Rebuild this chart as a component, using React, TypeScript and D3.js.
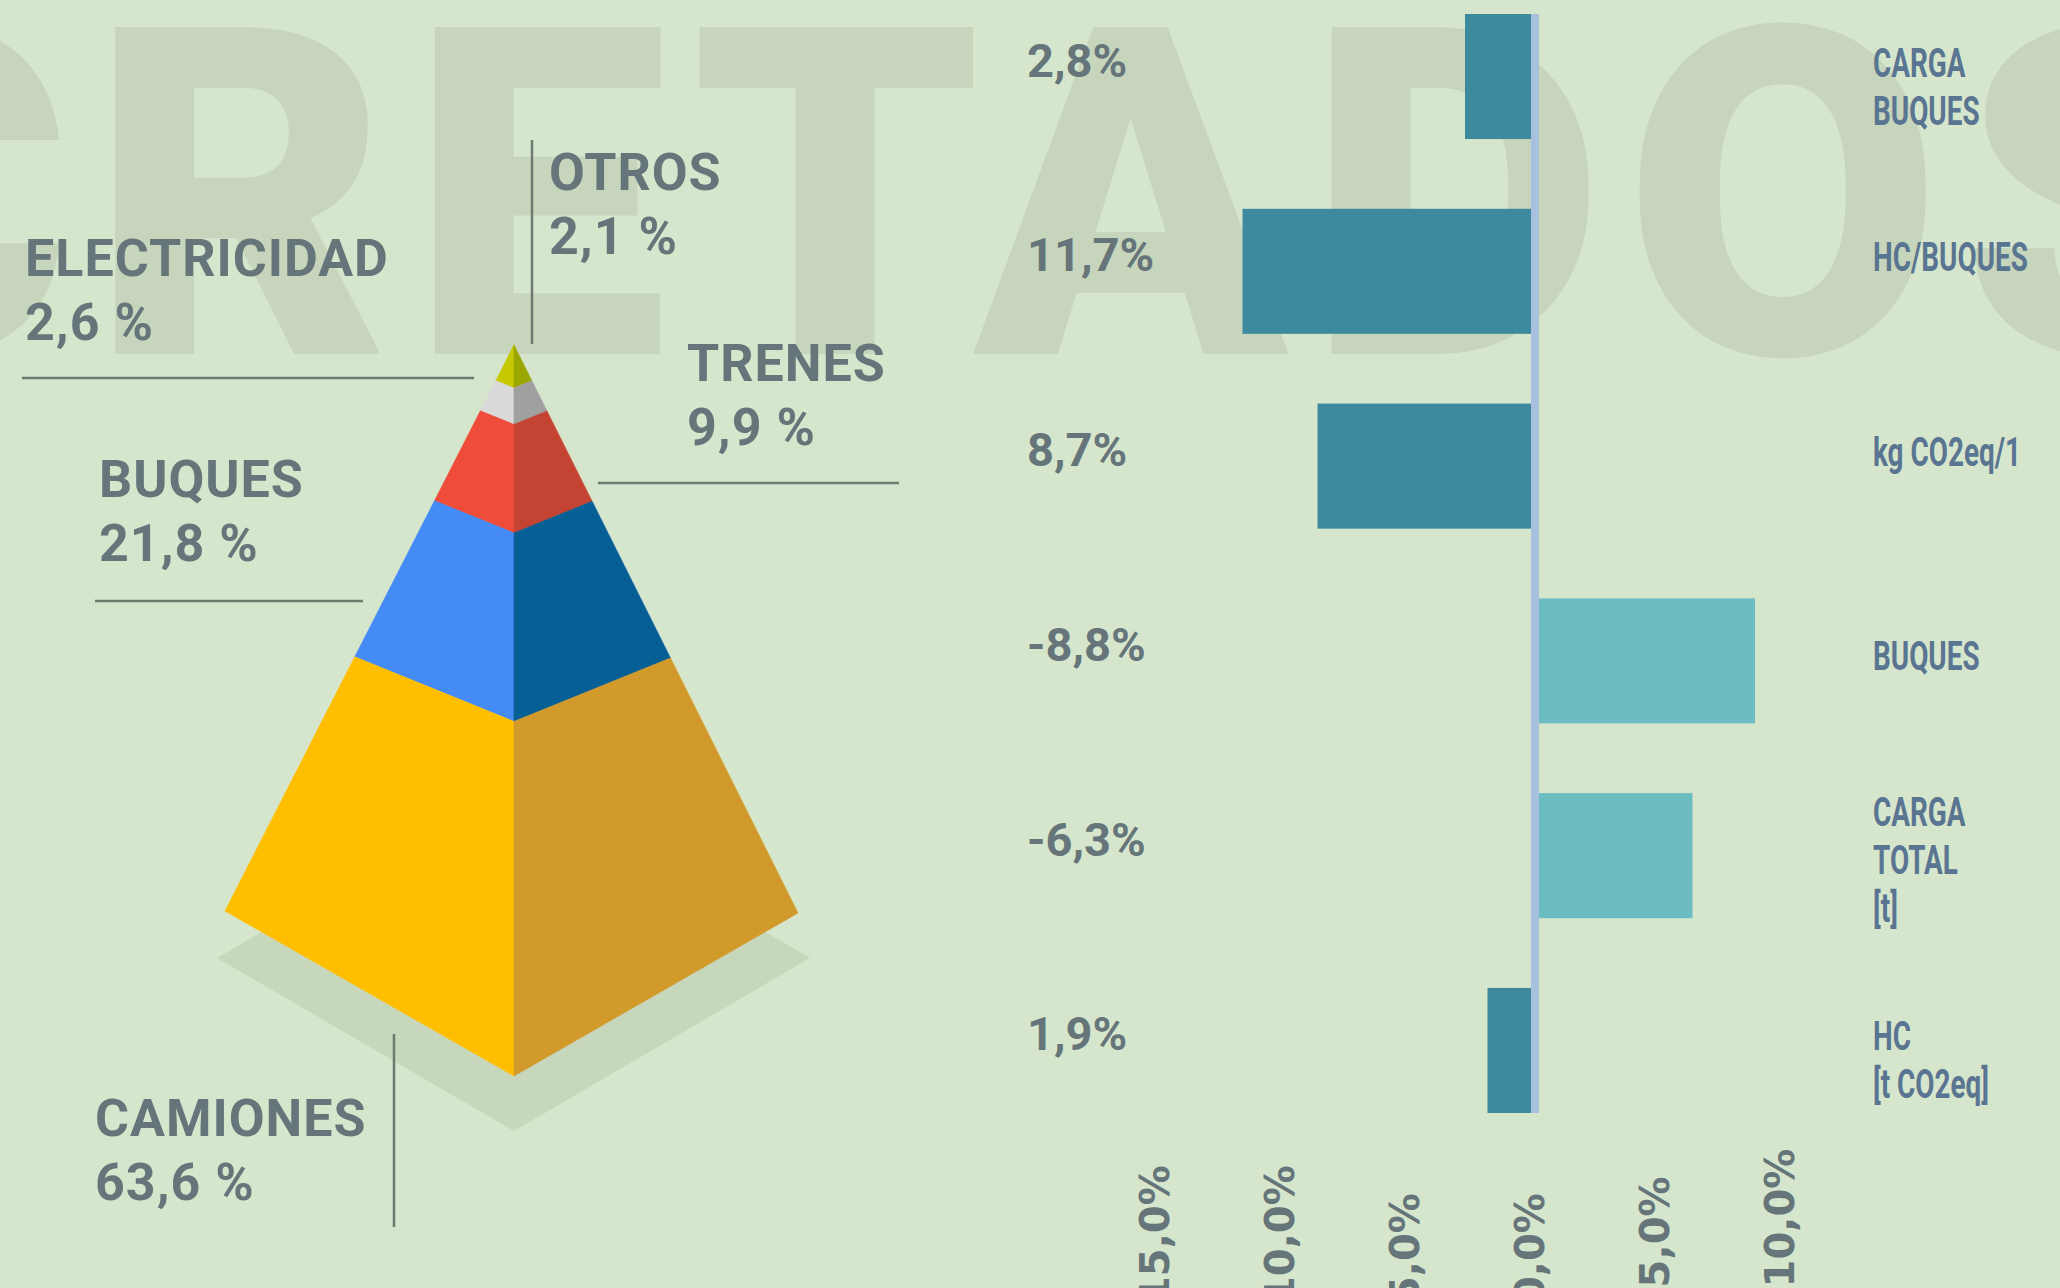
import * as d3 from "d3";

// pyramid shares (top to bottom)
const modeNames = ["OTROS", "ELECTRICIDAD", "TRENES", "BUQUES", "CAMIONES"];
const modeShares = [2.1, 2.6, 9.9, 21.8, 63.6];
const leftColors = ["#c6c800", "#d9d9d9", "#ef4c3a", "#448bf6", "#ffbf00"];
const rightColors = ["#9ca600", "#a0a0a0", "#c54332", "#065f95", "#d2992b"];

// bar chart
const categories = [
  "CARGA\nBUQUES",
  "HC/BUQUES",
  "kg CO2eq/1",
  "BUQUES",
  "CARGA\nTOTAL\n[t]",
  "HC\n[t CO2eq]",
];
const changes = [2.8, 11.7, 8.7, -8.8, -6.3, 1.9];
const tickValues = [15, 10, 5, 0, -5, -10];

const W = 2060;
const H = 1288;
const BG = "#d6e6cd";
const TEXT = "#65757a";

// where each pyramid label sits (layout only)
const labelLayout = [
  { x: 549, y: 190, line: [532, 140, 532, 344] },
  { x: 25, y: 276, line: [22, 378, 474, 378] },
  { x: 687, y: 381, line: [598, 483, 899, 483] },
  { x: 99, y: 497, line: [95, 601, 363, 601] },
  { x: 95, y: 1136, line: [394, 1034, 394, 1227] },
];

const comma = (v: number) => v.toFixed(1).replace(".", ",");

function Pyramid() {
  const apex: [number, number] = [514, 345];
  const left: [number, number] = [225, 911];
  const front: [number, number] = [514, 1076];
  const right: [number, number] = [798, 913];

  // cumulative share -> fraction of the height along the edges
  const depth = d3.scalePow().exponent(0.76).domain([0, 100]).range([0, 1.11]);
  const along = (p: [number, number], t: number): [number, number] => [
    apex[0] + (p[0] - apex[0]) * t,
    apex[1] + (p[1] - apex[1]) * t,
  ];
  const cum = d3.cumsum(modeShares);
  const line = d3.line();
  const last = modeShares.length - 1;

  return (
    <g>
      <polygon points="514,785 810,958 514,1131 217,958" fill="#c7d7bc" />
      {modeShares.map((v, i) => {
        const t0 = i === 0 ? 0 : depth(cum[i - 1]);
        const t1 = i === last ? 1 : depth(cum[i]);
        const s0 = Math.min(1, t0 * 1.07);
        const s1 = i === last ? 1 : Math.min(1, t1 * 1.07);
        const lf = line([along(left, s0), along(left, s1), along(front, t1), along(front, t0)]) + "Z";
        const rf = line([along(front, t0), along(front, t1), along(right, s1), along(right, s0)]) + "Z";
        return (
          <g key={modeNames[i]}>
            <path d={lf} fill={leftColors[i]} stroke={leftColors[i]} strokeWidth={0.6} />
            <path d={rf} fill={rightColors[i]} stroke={rightColors[i]} strokeWidth={0.6} />
          </g>
        );
      })}
      {modeNames.map((name, i) => {
        const l = labelLayout[i];
        return (
          <g
            key={name}
            fontFamily="Roboto, sans-serif"
            fontWeight={700}
            fontSize={52}
            letterSpacing={1}
            fill={TEXT}
          >
            <line x1={l.line[0]} y1={l.line[1]} x2={l.line[2]} y2={l.line[3]} stroke="#6e7a70" strokeWidth={2.5} />
            <text x={l.x} y={l.y}>{name}</text>
            <text x={l.x} y={l.y + 64}>{comma(modeShares[i]) + " %"}</text>
          </g>
        );
      })}
    </g>
  );
}

function Bars() {
  const x = d3.scaleLinear().domain([15, -10]).range([1160, 1785]);
  const y = d3.scaleBand().domain(categories).range([14, 1113]).paddingInner(0.358).paddingOuter(0);
  const x0 = x(0);
  const bw = y.bandwidth();

  return (
    <g>
      {categories.map((c, i) => {
        const v = changes[i];
        const x1 = v >= 0 ? x(v) : x0 + 4;
        const x2 = v >= 0 ? x0 - 4 : x(v);
        return (
          <rect
            key={c}
            x={x1}
            y={y(c)}
            width={x2 - x1}
            height={bw}
            fill={v >= 0 ? "#3d8a9e" : "#6bbdc1"}
          />
        );
      })}
      <rect x={x0 - 4} y={y.range()[0]} width={8} height={y.range()[1] - y.range()[0]} fill="#a6c0de" />

      {categories.map((c, i) => {
        const cy = (y(c) as number) + bw / 2;
        const lines = c.split("\n");
        const start = lines.length === 3 ? cy - 30 : lines.length === 1 && changes[i] < 0 ? cy + 9 : cy;
        return (
          <g key={"l" + c}>
            <text x={1027} y={cy} fontFamily="Roboto, sans-serif" fontWeight={700} fontSize={47} fill={TEXT}>
              {comma(changes[i]) + "%"}
            </text>
            <text
              transform={`translate(1873,${start}) scale(0.68,1)`}
              fontFamily="Roboto, sans-serif"
              fontWeight={700}
              fontSize={41}
              fill="#5a7591"
            >
              {lines.map((ln, k) => (
                <tspan key={k} x={0} y={k * 48}>
                  {ln}
                </tspan>
              ))}
            </text>
          </g>
        );
      })}

      {tickValues.map((t) => (
        <text
          key={t}
          transform={`translate(${x(t) - 5},1304) rotate(-90)`}
          dy="0.35em"
          fontFamily="'DejaVu Sans', sans-serif"
          fontWeight={700}
          fontSize={40}
          fill={TEXT}
        >
          {comma(t) + "%"}
        </text>
      ))}
    </g>
  );
}

export default function App() {
  return (
    <svg
      width={W}
      height={H}
      viewBox={`0 0 ${W} ${H}`}
      style={{ position: "absolute", left: 0, top: 0, display: "block" }}
    >
      <rect width={W} height={H} fill={BG} />
      <text
        x={-231}
        y={354}
        textLength={2480}
        lengthAdjust="spacing"
        fontFamily="Roboto, sans-serif"
        fontWeight={900}
        fontSize={460}
        fill="#c6d5bb"
      >
        CRETADOS
      </text>
      <Pyramid />
      <Bars />
    </svg>
  );
}
